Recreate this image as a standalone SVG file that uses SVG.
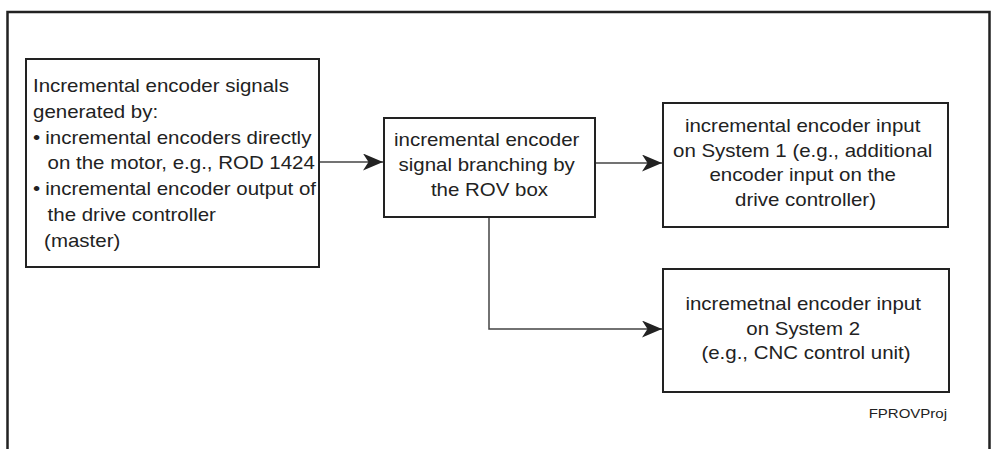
<svg xmlns="http://www.w3.org/2000/svg" width="994" height="449" viewBox="0 0 994 449">
<style>
.frame{fill:none;stroke:#222;stroke-width:2.5}
.box{fill:#fff;stroke:#222;stroke-width:2}
.conn{fill:none;stroke:#444;stroke-width:1.5}
.t{font-family:"Liberation Sans",Arial,sans-serif;font-size:17.5px;fill:#222}
.s{font-family:"Liberation Sans",Arial,sans-serif;font-size:12.5px;fill:#222}
</style>
<defs>
<marker id="ah" markerUnits="userSpaceOnUse" markerWidth="22" markerHeight="18" refX="20" refY="8.5" orient="auto">
<path d="M0,0 L20,8.5 L0,17 L5.5,8.5 Z" fill="#222"/>
</marker>
</defs>
<rect width="994" height="449" fill="#fff"/>
<path class="frame" d="M7.5,449 V12 H989.5 V449"/>
<g id="connectors">
<line class="conn" x1="319" y1="162" x2="383" y2="162" marker-end="url(#ah)"/>
<line class="conn" x1="595" y1="163" x2="662" y2="163" marker-end="url(#ah)"/>
<polyline class="conn" points="489,217 489,329 662,329" marker-end="url(#ah)"/>
</g>
<g id="source">
<rect class="box" x="26" y="59" width="293" height="208"/>
<text class="t" transform="translate(33,0) scale(1.17,1)">
<tspan x="0" y="92">Incremental encoder signals</tspan>
<tspan x="0" y="117.8">generated by:</tspan>
<tspan x="0" y="143.6">•</tspan><tspan x="10.5" y="143.6">incremental encoders directly</tspan>
<tspan x="12.5" y="169.4">on the motor, e.g., ROD 1424</tspan>
<tspan x="0" y="195.2">•</tspan><tspan x="10.5" y="195.2">incremental encoder output of</tspan>
<tspan x="12.5" y="221">the drive controller</tspan>
<tspan x="9.5" y="246.8">(master)</tspan>
</text>
</g>
<g id="rovbox">
<rect class="box" x="384" y="118" width="211" height="99"/>
<text class="t" text-anchor="middle" transform="translate(489.5,0) scale(1.17,1)">
<tspan x="0" y="146.5">incremental encoder</tspan>
<tspan x="0" y="171.5">signal branching by</tspan>
<tspan x="0" y="196">the ROV box</tspan>
</text>
</g>
<g id="system1">
<rect class="box" x="663" y="103" width="285" height="124"/>
<text class="t" text-anchor="middle" transform="translate(805.5,0) scale(1.17,1)">
<tspan x="0" y="132.5">incremental encoder input</tspan>
<tspan x="0" y="157">on System 1 (e.g., additional</tspan>
<tspan x="0" y="181.5">encoder input on the</tspan>
<tspan x="0" y="206.5">drive controller)</tspan>
</text>
</g>
<g id="system2">
<rect class="box" x="663" y="269" width="286" height="123"/>
<text class="t" text-anchor="middle" transform="translate(806,0) scale(1.17,1)">
<tspan x="0" y="310.5">incremetnal encoder input</tspan>
<tspan x="0" y="335">on System 2</tspan>
<tspan x="0" y="359.5">(e.g., CNC control unit)</tspan>
</text>
</g>
<text class="s" text-anchor="end" transform="translate(947,0) scale(1.2,1)"><tspan x="0" y="418">FPROVProj</tspan></text>
</svg>
